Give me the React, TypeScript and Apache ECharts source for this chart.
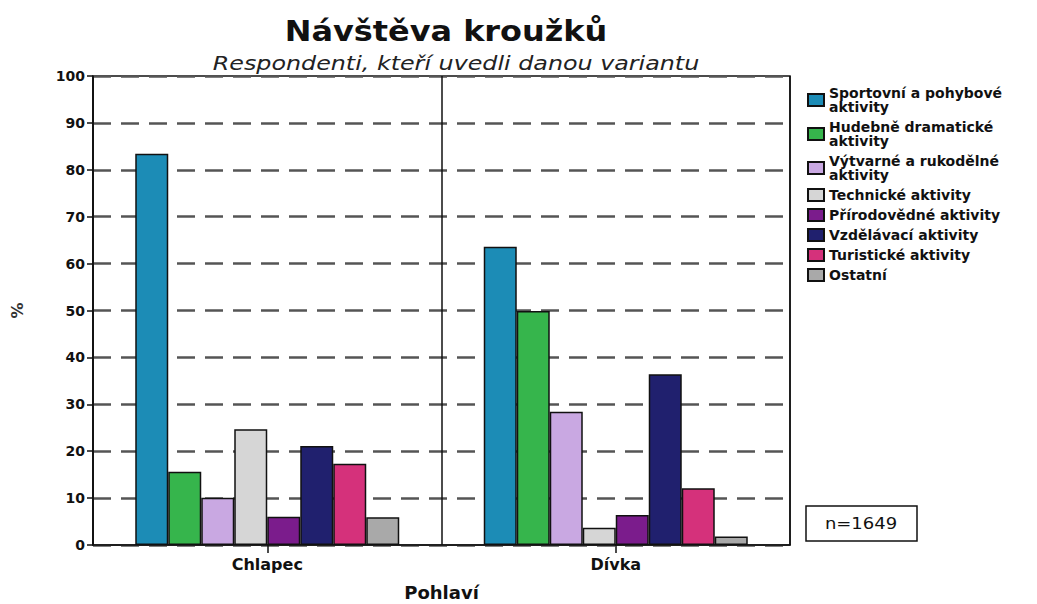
import React, { useEffect, useRef } from "react";
import * as echarts from "echarts";

const categories = ["Chlapec", "Dívka"];
const seriesNames = [
  "Sportovní a pohybové\naktivity",
  "Hudebně dramatické\naktivity",
  "Výtvarné a rukodělné\naktivity",
  "Technické aktivity",
  "Přírodovědné aktivity",
  "Vzdělávací aktivity",
  "Turistické aktivity",
  "Ostatní",
];
const chlapecValues = [83.4, 15.6, 10.1, 24.7, 6.0, 21.1, 17.3, 5.9];
const divkaValues = [63.6, 49.9, 28.4, 3.7, 6.4, 36.4, 12.1, 1.8];
const colors = ["#1c8cb6", "#36b54c", "#c9a8e2", "#d6d6d6", "#7b1c8c", "#20206e", "#d5317b", "#a9a9a9"];
const yTicks = [0, 100, 10];
const title = "Návštěva kroužků";
const subtitle = "Respondenti, kteří uvedli danou variantu";
const nLabel = "n=1649";

const FONT = "DejaVu Sans";

export default function App() {
  const ref = useRef<HTMLDivElement>(null);
  useEffect(() => {
    if (!ref.current) return;
    const chart = echarts.init(ref.current, undefined, { renderer: "svg" });
    const series = seriesNames.map((name, i) => ({
      name,
      type: "bar",
      data: [chlapecValues[i], divkaValues[i]],
      barWidth: 33,
      barGap: "0%",
      itemStyle: { color: colors[i], borderColor: "#111", borderWidth: 1.5 },
    }));
    chart.setOption({
      animation: false,
      backgroundColor: "#fff",
      grid: {
        left: 93,
        width: 697,
        top: 76,
        height: 469,
        containLabel: false,
        outerBoundsMode: "none",
        show: true,
        borderColor: "#111",
        borderWidth: 1.5,
        backgroundColor: "transparent",
      },
      legend: {
        orient: "vertical",
        left: 802,
        top: 81,
        itemWidth: 16,
        itemHeight: 12,
        itemGap: 6,
        icon: "rect",
        textStyle: { fontFamily: FONT, fontWeight: "bold", fontSize: 14, lineHeight: 14, color: "#111" },
      },
      xAxis: {
        type: "category",
        data: categories,
        name: "Pohlaví",
        nameLocation: "middle",
        nameGap: 38,
        nameTextStyle: { fontFamily: FONT, fontWeight: "bold", fontSize: 18, color: "#111" },
        axisLine: { lineStyle: { color: "#111", width: 1.5 } },
        axisTick: { show: true, alignWithLabel: true, length: 8, lineStyle: { color: "#111", width: 1.5 } },
        axisLabel: { fontFamily: FONT, fontWeight: "bold", fontSize: 16, color: "#111", margin: 11 },
        splitLine: { show: true, lineStyle: { color: "#111", width: 1.5 } },
      },
      yAxis: {
        type: "value",
        min: yTicks[0],
        max: yTicks[1],
        interval: yTicks[2],
        name: "%",
        nameLocation: "middle",
        nameRotate: 90,
        nameGap: 68,
        nameTextStyle: { fontFamily: FONT, fontWeight: "bold", fontSize: 16, color: "#333" },
        axisLine: { show: true, lineStyle: { color: "#111", width: 1.5 } },
        axisTick: { show: true, length: 6, lineStyle: { color: "#111", width: 1.5 } },
        axisLabel: { fontFamily: FONT, fontWeight: "bold", fontSize: 14, color: "#111", margin: 8 },
        splitLine: { show: true, lineStyle: { color: "#555", width: 2.5, type: [18, 10] } },
      },
      graphic: [
        {
          type: "text",
          x: 446,
          y: 31,
          scaleX: 1.14,
          style: {
            text: title,
            fontFamily: FONT,
            fontWeight: "bold",
            fontSize: 28,
            fill: "#111",
            align: "center",
            verticalAlign: "middle",
          },
        },
        {
          type: "text",
          x: 456,
          y: 63,
          scaleX: 1.19,
          style: {
            text: subtitle,
            fontFamily: FONT,
            fontStyle: "italic",
            fontSize: 20,
            fill: "#222",
            align: "center",
            verticalAlign: "middle",
          },
        },
        {
          type: "rect",
          shape: { x: 806, y: 506, width: 111, height: 35 },
          style: { fill: "#fff", stroke: "#111", lineWidth: 1.5 },
        },
        {
          type: "text",
          x: 861,
          y: 524,
          scaleX: 1.2,
          style: {
            text: nLabel,
            fontFamily: FONT,
            fontSize: 15,
            fill: "#111",
            align: "center",
            verticalAlign: "middle",
          },
        },
      ],
      series,
    });
    return () => chart.dispose();
  }, []);
  return <div ref={ref} style={{ position: "absolute", left: 0, top: 0, width: 1037, height: 604 }} />;
}
